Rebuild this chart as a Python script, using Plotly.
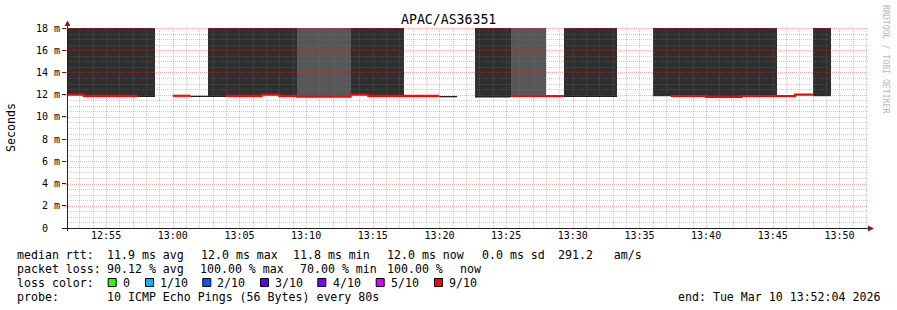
import plotly.graph_objects as go
import pandas as pd

# ---------------- data ----------------
TITLE = "APAC/AS36351"
X_START = "2026-03-10 12:52:04"
X_END = "2026-03-10 13:52:04"
FIRST_BIN_END = "2026-03-10 12:53:20"
STEP_SECONDS = 80

# median RTT per 80 s step (ms), None = no data
median_ms = [12.0, 11.9, 11.9, 11.9, 11.85, None, 11.9, 11.85, 11.85, 11.9,
             11.9, 12.0, 11.9, 11.82, 11.82, 11.82, 12.0, 11.9, 11.9, 11.9,
             11.9, 11.82, None, 11.8, 11.8, 11.88, 11.88, 11.88, 11.85, 11.85,
             11.85, None, None, 11.92, 11.88, 11.88, 11.8, 11.8, 11.88, 11.88,
             11.88, 12.0, 11.92]
# median line colour class: R = 9/10 loss colour, K = dark line
line_kind = ['R', 'R', 'R', 'R', 'K', None, 'R', 'K', 'K', 'R',
             'R', 'R', 'R', 'R', 'R', 'R', 'R', 'R', 'R', 'R',
             'R', 'K', None, 'K', 'K', 'R', 'R', 'R', 'K', 'K',
             'K', None, None, 'K', 'R', 'R', 'R', 'R', 'R', 'R',
             'R', 'R', 'K']
# smoke shade: D = dark, L = lighter, None = no smoke
smoke_shade = ['D', 'D', 'D', 'D', 'D', None, None, None, 'D', 'D',
               'D', 'D', 'D', 'L', 'L', 'L', 'D', 'D', 'D', None,
               None, None, None, 'D', 'D', 'L', 'L', None, 'D', 'D',
               'D', None, None, 'D', 'D', 'D', 'D', 'D', 'D', 'D',
               None, None, 'D']

y_tick_vals = [0, 2, 4, 6, 8, 10, 12, 14, 16, 18]
y_tick_text = ["0\u00a0\u00a0", "2 m", "4 m", "6 m", "8 m", "10 m", "12 m", "14 m", "16 m", "18 m"]

legend_lines = [
    [("median rtt:", 16.7), ("11.9 ms avg", 107.3), ("12.0 ms max", 201), ("11.8 ms min", 293.3),
     ("12.0 ms now", 386.7), ("0.0 ms sd", 481.7), ("291.2\u00a0\u00a0\u00a0am/s", 558.3)],
    [("packet loss:", 16.7), ("90.12 % avg", 107.3), ("100.00 % max", 200), ("70.00 % min", 300),
     ("100.00 %", 386.7), ("now", 460)],
    [("loss color:", 16.7)],
    [("probe:", 16.7), ("10 ICMP Echo Pings (56 Bytes) every 80s", 107.3)],
]
legend_rows_y = [254.5, 268.5, 282.5, 296.5]
loss_labels = ["0", "1/10", "2/10", "3/10", "4/10", "5/10", "9/10"]
loss_colors = ["#26ff00", "#00b8ff", "#0059ff", "#5e00ff", "#7e00ff", "#dd00ff", "#ff0000"]
loss_box_x = [108.7, 146, 203.3, 261, 318.3, 376.7, 435]
loss_label_x = [123.3, 160, 217.3, 275, 332.7, 391, 449.3]
END_TEXT = "end: Tue Mar 10 13:52:04 2026"

# ---------------- layout constants ----------------
W, H = 897, 310
PL, PR, PT, PB = 67, 867, 28, 228
FONT = "DejaVu Sans Mono"
Y_MAX = 18

def px(x):
    return (x - PL) / (PR - PL)

def py(y):
    return (PB - y) / (PB - PT)

bin_end = pd.date_range(FIRST_BIN_END, periods=len(median_ms), freq=f"{STEP_SECONDS}s")
bin_start = bin_end - pd.Timedelta(seconds=STEP_SECONDS)
bin_mid = bin_end - pd.Timedelta(seconds=STEP_SECONDS / 2)

fig = go.Figure()

# smoke
shade_col = {'D': '#2f2f2f', 'L': '#575757'}
sx, sb, sy, sc = [], [], [], []
for i, s in enumerate(smoke_shade):
    if s is None or median_ms[i] is None:
        continue
    sx.append(bin_mid[i])
    sb.append(median_ms[i])
    sy.append(19 - median_ms[i])
    sc.append(shade_col[s])
fig.add_trace(go.Bar(x=sx, y=sy, base=sb, width=STEP_SECONDS * 1000,
                     marker=dict(color=sc, line=dict(width=0)), hoverinfo="skip",
                     showlegend=False))

# median lines
kind_style = {'R': ('#ff0000', 2.2), 'K': ('#202020', 1.3)}
for kind, (col, lw) in kind_style.items():
    xs, ys = [], []
    prev = None
    for i, k in enumerate(line_kind):
        if k != kind or median_ms[i] is None:
            continue
        if prev is not None and prev != i - 1:
            xs.append(None); ys.append(None)
        xs += [bin_start[i], bin_end[i]]
        ys += [median_ms[i], median_ms[i]]
        prev = i
    fig.add_trace(go.Scatter(x=xs, y=ys, mode="lines", line=dict(color=col, width=lw),
                             hoverinfo="skip", showlegend=False, connectgaps=False))

shapes = []
# grid (drawn above the smoke like rrdtool), snapped to pixel centres
minor_col = "rgba(120,120,120,0.36)"
major_col = "rgba(255,40,40,0.36)"
t_start = pd.Timestamp(X_START)
t_end = pd.Timestamp(X_END)
span_s = (t_end - t_start).total_seconds()
t = t_start.ceil("min")
while t <= t_end:
    major = (t.minute % 5 == 0)
    xpix = round(PL + (t - t_start).total_seconds() / span_s * (PR - PL)) + 0.5
    shapes.append(dict(type="line", xref="paper", yref="paper", x0=px(xpix), x1=px(xpix),
                       y0=0, y1=1,
                       line=dict(color=major_col if major else minor_col, width=1, dash="1px,1px"),
                       layer="above"))
    t += pd.Timedelta(minutes=1)
for k in range(1, 37):
    v = k * 0.5
    major = (k % 4 == 0)
    ypix = round(PB - v / Y_MAX * (PB - PT)) + 0.5
    shapes.append(dict(type="line", xref="paper", yref="paper", x0=px(62) if major else 0, x1=px(868),
                       y0=py(ypix), y1=py(ypix),
                       line=dict(color=major_col if major else minor_col, width=1, dash="1px,1px"),
                       layer="above"))

# axes + arrows
axis_col = "#202020"
arrow_col = "#8b1a1a"
shapes.append(dict(type="line", xref="paper", yref="paper", x0=px(67.5), x1=px(67.5), y0=py(231), y1=py(24),
                   line=dict(color=axis_col, width=1), layer="above"))
shapes.append(dict(type="line", xref="paper", yref="paper", x0=px(62), x1=px(869), y0=py(228.5), y1=py(228.5),
                   line=dict(color=axis_col, width=1), layer="above"))
shapes.append(dict(type="path", xref="paper", yref="paper",
                   path=f"M {px(64.5)} {py(26)} L {px(70.5)} {py(26)} L {px(67.5)} {py(20.5)} Z",
                   fillcolor=arrow_col, line=dict(width=0), layer="above"))
shapes.append(dict(type="path", xref="paper", yref="paper",
                   path=f"M {px(868)} {py(225.5)} L {px(868)} {py(231.5)} L {px(874)} {py(228.5)} Z",
                   fillcolor=arrow_col, line=dict(width=0), layer="above"))

# legend boxes
for bx, c in zip(loss_box_x, loss_colors):
    shapes.append(dict(type="rect", xref="paper", yref="paper",
                       x0=px(bx - 0.5), x1=px(bx + 7.5), y0=py(286.5), y1=py(278.5),
                       fillcolor=c, line=dict(color="#000000", width=1)))

annotations = []
annotations.append(dict(text=TITLE, xref="paper", yref="paper", x=px(448), y=py(19),
                        xanchor="center", yanchor="middle", showarrow=False,
                        font=dict(family=FONT, size=13.2, color="#000")))
annotations.append(dict(text="Seconds", xref="paper", yref="paper", x=px(11), y=py(127),
                        xanchor="center", yanchor="middle", textangle=-90, showarrow=False,
                        font=dict(family=FONT, size=11.6, color="#000")))
annotations.append(dict(text="RRDTOOL / TOBI OETIKER", xref="paper", yref="paper", x=px(886), y=py(59),
                        xanchor="center", yanchor="middle", textangle=90, showarrow=False,
                        font=dict(family=FONT, size=8.2, color="#b8b8b8")))
for row_y, items in zip(legend_rows_y, legend_lines):
    for txt, x in items:
        annotations.append(dict(text=txt, xref="paper", yref="paper", x=px(x - 2), y=py(row_y),
                                xanchor="left", yanchor="middle", showarrow=False,
                                font=dict(family=FONT, size=11.6, color="#000")))
for lbl, x in zip(loss_labels, loss_label_x):
    annotations.append(dict(text=lbl, xref="paper", yref="paper", x=px(x - 2), y=py(282.5),
                            xanchor="left", yanchor="middle", showarrow=False,
                            font=dict(family=FONT, size=11.6, color="#000")))
annotations.append(dict(text=END_TEXT, xref="paper", yref="paper", x=px(882), y=py(296.5),
                        xanchor="right", yanchor="middle", showarrow=False,
                        font=dict(family=FONT, size=11.6, color="#000")))

fig.update_layout(
    width=W, height=H,
    margin=dict(l=PL, r=W - PR, t=PT, b=H - PB, pad=0),
    paper_bgcolor="#ffffff", plot_bgcolor="#ffffff",
    showlegend=False, bargap=0,
    shapes=shapes, annotations=annotations,
    xaxis=dict(type="date", range=[X_START, X_END], showgrid=False, zeroline=False,
               tickformat="%H:%M", dtick=300000, tick0="2026-03-10 12:55:00",
               ticks="", showline=False,
               tickfont=dict(family=FONT, size=10, color="#000")),
    yaxis=dict(range=[0, Y_MAX], showgrid=False, zeroline=False, tickvals=y_tick_vals,
               ticktext=y_tick_text, ticks="outside", ticklen=4, tickcolor=axis_col,
               showline=False, tickfont=dict(family=FONT, size=10, color="#000")),
)

fig.write_html("out.html")
